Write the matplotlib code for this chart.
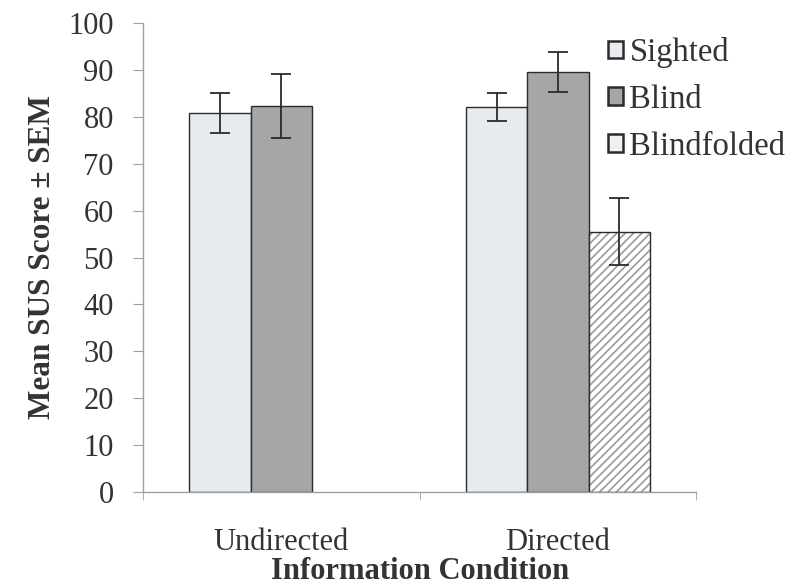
import numpy as np
import matplotlib.pyplot as plt
from matplotlib.patches import Patch

plt.rcParams['font.family'] = ['Liberation Serif', 'DejaVu Serif']
plt.rcParams['hatch.linewidth'] = 1.2

conditions = ['Undirected', 'Directed']
groups = ['Sighted', 'Blind', 'Blindfolded']
means = {
    'Sighted': [80.8, 82.1],
    'Blind': [82.3, 89.6],
    'Blindfolded': [np.nan, 55.5],
}
sems = {
    'Sighted': [4.3, 2.9],
    'Blind': [6.9, 4.3],
    'Blindfolded': [np.nan, 7.1],
}

faces = {'Sighted': '#e7ebef', 'Blind': '#a6a6a6', 'Blindfolded': '#ffffff'}
hatches = {'Sighted': None, 'Blind': None, 'Blindfolded': '////'}
text_col = '#333333'
axis_col = '#9aa0a6'

fig = plt.figure(figsize=(7.94, 5.88), dpi=100)
ax = fig.add_axes([0.180, 0.163, 0.697, 0.798])

x = np.arange(len(conditions))
width = 0.222
for k, g in enumerate(groups):
    pos = x + (k - 1) * width
    bars = ax.bar(pos, means[g], width, color=faces[g], edgecolor='#2b2b2b',
                  linewidth=1.0, hatch=hatches[g], zorder=2)
    if hatches[g]:
        for b in bars:
            b._hatch_color = (0.6, 0.6, 0.6, 1.0)
    ax.errorbar(pos, means[g], yerr=sems[g], fmt='none', ecolor='#2b2b2b',
                elinewidth=1.3, capsize=7, capthick=1.3, zorder=3)

ax.set_xlim(-0.5, 1.5)
ax.set_ylim(0, 100)
ax.set_yticks(np.arange(0, 101, 10))
ax.set_xticks(x)
ax.set_xticklabels(conditions)
ax.set_xticks([-0.5, 0.5, 1.5], minor=True)
ax.tick_params(axis='x', which='major', length=0, pad=26, labelsize=22, labelcolor=text_col)
ax.tick_params(axis='x', which='minor', length=6, color=axis_col, direction='out')
ax.tick_params(axis='y', length=7, color=axis_col, labelsize=22, labelcolor=text_col, pad=14)

for s in ['top', 'right']:
    ax.spines[s].set_visible(False)
for s in ['left', 'bottom']:
    ax.spines[s].set_color(axis_col)
    ax.spines[s].set_linewidth(1.0)

ax.set_ylabel('Mean SUS Score ± SEM', fontsize=22.5, fontweight='bold', color=text_col, labelpad=8)
ax.set_xlabel('Information Condition', fontsize=22, fontweight='bold', color=text_col, labelpad=0)

handles = [Patch(facecolor=faces[g] if g != 'Blindfolded' else '#eef1f4',
                 edgecolor='#2b2b2b', linewidth=1.8) for g in groups]
leg = fig.legend(handles, groups, loc='upper left', bbox_to_anchor=(0.766, 0.937),
                 frameon=False, fontsize=23.5, handlelength=0.45, handleheight=0.45,
                 handletextpad=0.2, labelspacing=0.5, borderaxespad=0, borderpad=0)
for t in leg.get_texts():
    t.set_color(text_col)

fig.savefig('out.png', dpi=100)
